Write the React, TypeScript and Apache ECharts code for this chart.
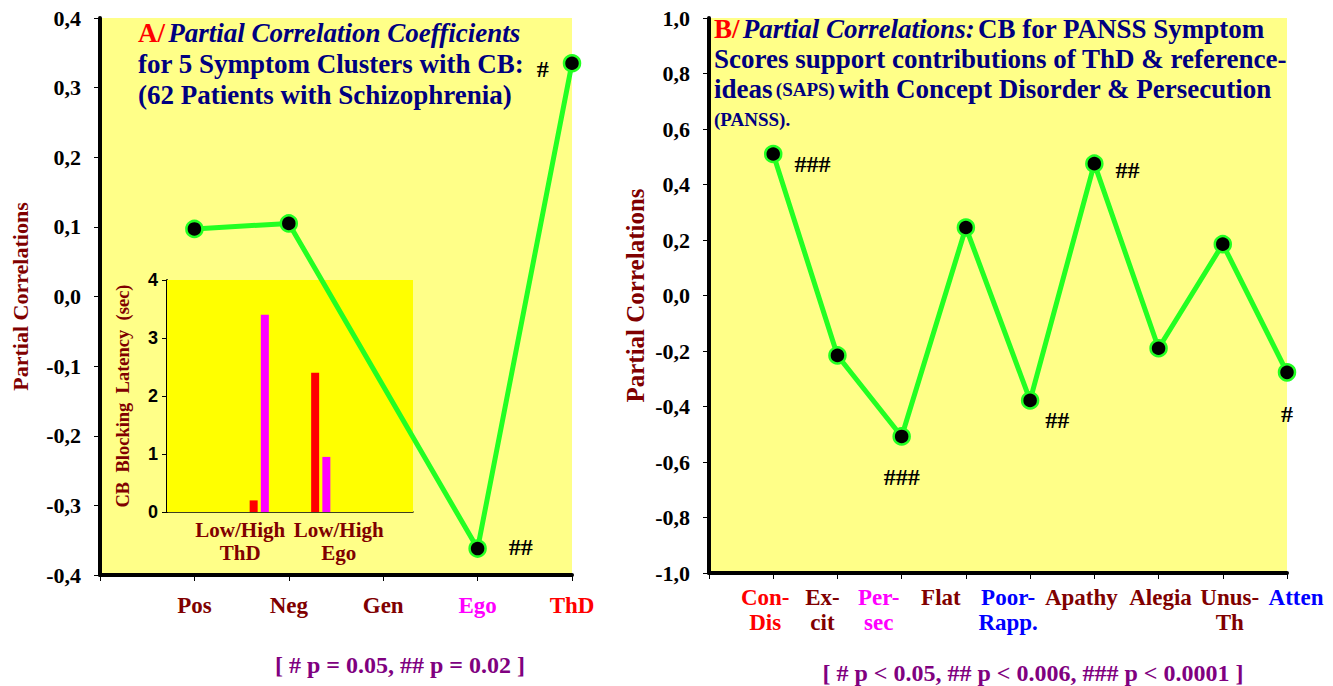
import React, { useEffect, useRef } from "react";
import * as echarts from "echarts";

// ---------- data ----------
const leftCategories = ["", "Pos", "Neg", "Gen", "Ego", "ThD"];
const leftValues: (number | null)[] = [null, 0.097, 0.105, null, -0.362, 0.335];
const leftLabelColors = ["#800000", "#800000", "#800000", "#800000", "#ff00ff", "#ff0000"];
const leftMarks = ["", "", "", "", "##", "#"];

const insetCategories = ["", "ThD", "Ego", ""];
const insetLow: (number | null)[] = [null, 0.2, 2.4, null];
const insetHigh: (number | null)[] = [null, 3.4, 0.95, null];
const insetLabels = ["Low/High\nThD", "Low/High\nEgo"];

const rightCategories = ["", "Con-\nDis", "Ex-\ncit", "Per-\nsec", "Flat", "Poor-\nRapp.", "Apathy", "Alegia", "Unus-\nTh", "Atten"];
const rightValues: (number | null)[] = [null, 0.51, -0.216, -0.508, 0.245, -0.378, 0.475, -0.19, 0.185, -0.277];
const rightLabelColors = ["#800000", "#ff0000", "#800000", "#ff00ff", "#800000", "#0000ff", "#800000", "#800000", "#800000", "#0000ff"];
const rightMarks = ["", "###", "", "###", "", "##", "##", "", "", "#"];

const leftFootnote = "[ # p = 0.05, ## p = 0.02 ]";
const rightFootnote = "[ # p < 0.05, ## p < 0.006, ### p < 0.0001 ]";

// ---------- styles ----------
const SERIF = "Liberation Serif";
const SANS = "Liberation Sans";
const GREEN = "#22ff22";
const DARKRED = "#800000";
const NAVY = "#000080";

// horizontal shift (px) of each right-hand category label relative to its tick
const rightLabelShift = [0, -8, -15, -23, -25, -22, -13, 2, 7, 9];

const leftMarkPlacement: Record<number, any> = {
  4: { position: "right", distance: 22, offset: [0, -2] },
  5: { position: "left", distance: 14, offset: [0, 6] },
};
const rightMarkPlacement: Record<number, any> = {
  1: { position: "right", distance: 12, offset: [0, 10] },
  3: { position: "bottom", distance: 19, offset: [0, 0] },
  5: { position: "right", distance: 6, offset: [0, 20] },
  6: { position: "right", distance: 12, offset: [0, 6] },
  9: { position: "bottom", distance: 20, offset: [0, 0] },
};

function buildData(values: (number | null)[], marks: string[], placement: Record<number, any>) {
  return values.map((v, i) => {
    const val = v === null ? "-" : v;
    if (!marks[i]) return val;
    return {
      value: val,
      label: {
        show: true,
        formatter: marks[i],
        color: "#000",
        fontFamily: SERIF,
        fontWeight: "bold",
        fontSize: 24,
        ...placement[i],
      },
    };
  });
}

const fmt = (v: number) => v.toFixed(1).replace(".", ",");

export default function App() {
  const ref = useRef<HTMLDivElement>(null);

  useEffect(() => {
    if (!ref.current) return;
    const chart = echarts.init(ref.current, null, { renderer: "svg" });

    const tickLabelStyle = {
      fontFamily: SERIF,
      fontWeight: "bold",
      fontSize: 22,
      color: "#000",
    };
    const lineSeriesBase = {
      type: "line",
      symbol: "circle",
      symbolSize: 16,
      lineStyle: { color: GREEN, width: 5 },
      itemStyle: { color: "#000", borderColor: GREEN, borderWidth: 2.5 },
      z: 5,
    };
    const titleRich = (lh: number) => ({
      r: { fontFamily: SERIF, fontWeight: "bold", fontSize: 27, fill: "#ff0000", lineHeight: lh },
      i: { fontFamily: SERIF, fontWeight: "bold", fontStyle: "italic", fontSize: 27, fill: NAVY, lineHeight: lh },
      b: { fontFamily: SERIF, fontWeight: "bold", fontSize: 27, fill: NAVY, lineHeight: lh },
      s: { fontFamily: SERIF, fontWeight: "bold", fontSize: 19, fill: NAVY, lineHeight: lh },
    });

    const rightRich: Record<string, any> = {};
    rightLabelColors.forEach((c, i) => {
      const s = rightLabelShift[i];
      rightRich["c" + i] = {
        color: c,
        fontFamily: SERIF,
        fontWeight: "bold",
        fontSize: 23,
        lineHeight: 25,
        padding: s < 0 ? [0, -2 * s, 0, 0] : [0, 0, 0, 2 * s],
      };
    });

    const option: any = {
      animation: false,
      backgroundColor: "#ffffff",
      textStyle: { fontFamily: SERIF },
      grid: [
        { left: 100, top: 18, width: 472, height: 557, show: true, backgroundColor: "#ffff88", borderWidth: 0 },
        { left: 167, top: 280, width: 246, height: 232, show: true, backgroundColor: "#ffff00", borderWidth: 0, z: 1 },
        { left: 191, top: 280, width: 197, height: 232 },
        { left: 709, top: 18, width: 578, height: 555, show: true, backgroundColor: "#ffff88", borderWidth: 0 },
      ],
      xAxis: [
        {
          gridIndex: 0,
          type: "category",
          data: leftCategories,
          boundaryGap: false,
          axisLine: { show: true, onZero: false, lineStyle: { color: "#000", width: 4 } },
          axisTick: { show: true, length: 6, lineStyle: { color: "#000", width: 1 } },
          axisLabel: {
            interval: 0,
            margin: 19,
            fontFamily: SERIF,
            fontWeight: "bold",
            fontSize: 23,
            color: (_v: any, i: number) => leftLabelColors[i],
          },
          splitLine: { show: false },
        },
        {
          gridIndex: 1,
          type: "category",
          data: insetCategories,
          axisLine: { show: true, onZero: false, lineStyle: { color: "#000", width: 1.5 } },
          axisTick: { show: false },
          axisLabel: { show: false },
          splitLine: { show: false },
        },
        {
          gridIndex: 2,
          type: "category",
          data: insetLabels,
          axisLine: { show: false, onZero: false },
          axisTick: { show: false },
          axisLabel: {
            interval: 0,
            margin: 6,
            fontFamily: SERIF,
            fontWeight: "bold",
            fontSize: 21,
            lineHeight: 23,
            color: DARKRED,
          },
          splitLine: { show: false },
        },
        {
          gridIndex: 3,
          type: "category",
          data: rightCategories,
          boundaryGap: false,
          axisLine: { show: true, onZero: false, lineStyle: { color: "#000", width: 4 } },
          axisTick: { show: true, length: 6, lineStyle: { color: "#000", width: 1 } },
          axisLabel: {
            interval: 0,
            margin: 12,
            formatter: (v: string, i: number) =>
              v ? v.split("\n").map((l) => `{c${i}|${l}}`).join("\n") : "",
            rich: rightRich,
          },
          splitLine: { show: false },
        },
      ],
      yAxis: [
        {
          gridIndex: 0,
          type: "value",
          min: -0.4,
          max: 0.4,
          interval: 0.1,
          axisLine: { show: true, onZero: false, lineStyle: { color: "#000", width: 4 } },
          axisTick: { show: true, length: 6, lineStyle: { color: "#000", width: 1 } },
          axisLabel: { ...tickLabelStyle, margin: 19, formatter: fmt },
          splitLine: { show: false },
          name: "Partial Correlations",
          nameLocation: "middle",
          nameGap: 69,
          nameTextStyle: { fontFamily: SERIF, fontWeight: "bold", fontSize: 22, color: DARKRED },
        },
        {
          gridIndex: 1,
          type: "value",
          min: 0,
          max: 4,
          interval: 1,
          axisLine: { show: true, onZero: false, lineStyle: { color: "#000", width: 2 } },
          axisTick: { show: true, length: 5, lineStyle: { color: "#000", width: 1 } },
          axisLabel: { fontFamily: SANS, fontWeight: "bold", fontSize: 18, color: "#000", margin: 9 },
          splitLine: { show: false },
          name: "CB  Blocking  Latency  (sec)",
          nameLocation: "middle",
          nameGap: 35,
          nameTextStyle: { fontFamily: SERIF, fontWeight: "bold", fontSize: 18.5, color: DARKRED },
        },
        {
          gridIndex: 2,
          type: "value",
          min: 0,
          max: 1,
          show: false,
        },
        {
          gridIndex: 3,
          type: "value",
          min: -1,
          max: 1,
          interval: 0.2,
          axisLine: { show: true, onZero: false, lineStyle: { color: "#000", width: 4 } },
          axisTick: { show: true, length: 6, lineStyle: { color: "#000", width: 1 } },
          axisLabel: { ...tickLabelStyle, margin: 19, formatter: fmt },
          splitLine: { show: false },
          name: "Partial Correlations",
          nameLocation: "middle",
          nameGap: 61,
          nameTextStyle: { fontFamily: SERIF, fontWeight: "bold", fontSize: 25, color: DARKRED },
        },
      ],
      series: [
        {
          ...lineSeriesBase,
          xAxisIndex: 0,
          yAxisIndex: 0,
          connectNulls: true,
          data: buildData(leftValues, leftMarks, leftMarkPlacement),
        },
        {
          type: "bar",
          xAxisIndex: 1,
          yAxisIndex: 1,
          barWidth: 8,
          barGap: "40%",
          itemStyle: { color: "#ff0000" },
          data: insetLow.map((v) => (v === null ? "-" : v)),
          z: 3,
        },
        {
          type: "bar",
          xAxisIndex: 1,
          yAxisIndex: 1,
          barWidth: 8,
          barGap: "40%",
          itemStyle: { color: "#ff00ff" },
          data: insetHigh.map((v) => (v === null ? "-" : v)),
          z: 3,
        },
        {
          ...lineSeriesBase,
          xAxisIndex: 3,
          yAxisIndex: 3,
          connectNulls: true,
          data: buildData(rightValues, rightMarks, rightMarkPlacement),
        },
      ],
      graphic: [
        {
          type: "text",
          left: 138,
          top: 17,
          z: 10,
          style: {
            text:
              "{r|A/} {i|Partial Correlation Coefficients}\n{b|for 5 Symptom Clusters with CB:}\n{b|(62 Patients with Schizophrenia)}",
            lineHeight: 31,
            rich: titleRich(31),
          },
        },
        {
          type: "text",
          left: 714,
          top: 14,
          z: 10,
          style: {
            text:
              "{r|B/} {i|Partial Correlations:} {b|CB for PANSS Symptom}\n{b|Scores support contributions of ThD & reference-}\n{b|ideas} {s|(SAPS)} {b|with Concept Disorder & Persecution}\n{s|(PANSS).}",
            lineHeight: 30,
            rich: titleRich(30),
          },
        },
        {
          type: "text",
          x: 400,
          y: 665,
          z: 10,
          style: {
            text: leftFootnote,
            fontFamily: SERIF,
            fontWeight: "bold",
            fontSize: 24,
            fill: "#800080",
            align: "center",
            verticalAlign: "middle",
          },
        },
        {
          type: "text",
          x: 1033,
          y: 673,
          z: 10,
          style: {
            text: rightFootnote,
            fontFamily: SERIF,
            fontWeight: "bold",
            fontSize: 24,
            fill: "#800080",
            align: "center",
            verticalAlign: "middle",
          },
        },
      ],
    };

    chart.setOption(option);
    return () => chart.dispose();
  }, []);

  return (
    <div
      ref={ref}
      style={{ position: "fixed", left: 0, top: 0, width: 1333, height: 686, background: "#fff" }}
    />
  );
}
